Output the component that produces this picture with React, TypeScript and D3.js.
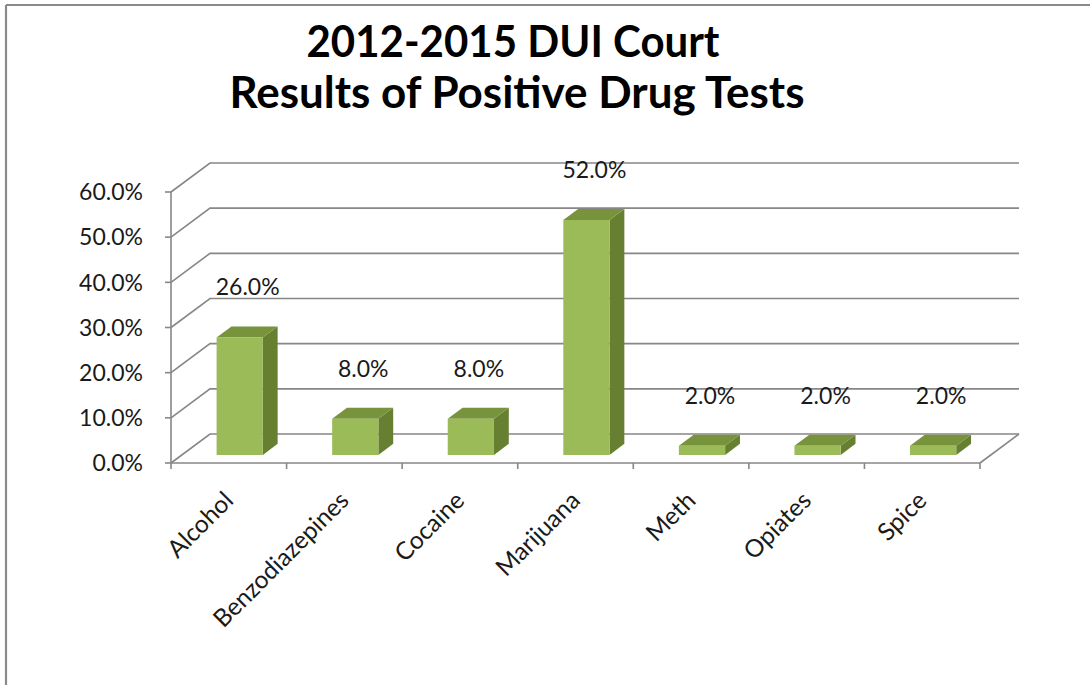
import React from "react";
import * as d3 from "d3";

const titleLines = ["2012-2015 DUI Court", "Results of Positive Drug Tests"];
const categories = ["Alcohol", "Benzodiazepines", "Cocaine", "Marijuana", "Meth", "Opiates", "Spice"];
const values = [26, 8, 8, 52, 2, 2, 2];
const yTicks = [0, 10, 20, 30, 40, 50, 60];

const W = 1090;
const H = 685;
const FRONT_LEFT = 171;
const FRONT_RIGHT = 980;
const FRONT_BOTTOM = 463;
const FRONT_TOP = 192;
const DEPTH = { dx: 39, dy: -29 };
const BAR_F0 = 0.28;
const BAR_F1 = 0.66;
const GRID = "#878787";
const FONT = "Lato, 'Open Sans', sans-serif";
const TITLE_LAYOUT = [
  { cx: 513, y: 57, len: 413 },
  { cx: 517, y: 108, len: 575 },
];

export default function App() {
  const x = d3.scaleBand<string>().domain(categories).range([FRONT_LEFT, FRONT_RIGHT]).padding(0);
  const y = d3.scaleLinear().domain([0, 60]).range([FRONT_BOTTOM, FRONT_TOP]);
  const fmt = (v: number) => d3.format(".1f")(v) + "%";
  const bw = x.bandwidth();
  const barW = bw / 2.5;
  const ox0 = DEPTH.dx * BAR_F0, oy0 = DEPTH.dy * BAR_F0;
  const ddx = DEPTH.dx * (BAR_F1 - BAR_F0), ddy = DEPTH.dy * (BAR_F1 - BAR_F0);
  const line = d3.line();

  return (
    <svg width={W} height={H} style={{ position: "absolute", left: 0, top: 0, background: "#fff" }}>
      <rect x={0} y={0} width={W} height={H} fill="#fff" />
      <line x1={6} y1={5} x2={W} y2={5} stroke="#8a8a8a" strokeWidth={2.2} />
      <line x1={6} y1={5} x2={6} y2={H} stroke="#8a8a8a" strokeWidth={2.2} />

      {titleLines.map((t, i) => (
        <text key={t} x={TITLE_LAYOUT[i].cx} y={TITLE_LAYOUT[i].y} textAnchor="middle" fontFamily={FONT} fontWeight={700}
          fontSize={43} textLength={TITLE_LAYOUT[i].len} lengthAdjust="spacingAndGlyphs" fill="#000">{t}</text>
      ))}

      {/* gridlines: side wall diagonal + back wall horizontal */}
      {yTicks.map((t) => {
        const yy = y(t);
        return (
          <path key={"g" + t}
            d={line([[FRONT_LEFT, yy], [FRONT_LEFT + DEPTH.dx, yy + DEPTH.dy], [FRONT_RIGHT + DEPTH.dx, yy + DEPTH.dy]]) || ""}
            fill="none" stroke={GRID} strokeWidth={1.6} />
        );
      })}
      {/* floor right edge */}
      <line x1={FRONT_RIGHT} y1={FRONT_BOTTOM} x2={FRONT_RIGHT + DEPTH.dx} y2={FRONT_BOTTOM + DEPTH.dy}
        stroke={GRID} strokeWidth={1.6} />
      {/* front axes */}
      <line x1={FRONT_LEFT} y1={y(60)} x2={FRONT_LEFT} y2={FRONT_BOTTOM} stroke={GRID} strokeWidth={1.6} />
      <line x1={FRONT_LEFT} y1={FRONT_BOTTOM} x2={FRONT_RIGHT} y2={FRONT_BOTTOM} stroke={GRID} strokeWidth={1.6} />
      {yTicks.map((t) => (
        <g key={"t" + t}>
          <line x1={FRONT_LEFT - 6} x2={FRONT_LEFT} y1={y(t)} y2={y(t)} stroke={GRID} strokeWidth={1.6} />
          <text x={143} y={y(t)} dy="0.36em" textAnchor="end" fontFamily={FONT} fontSize={23} fill="#1a1a1a">{fmt(t)}</text>
        </g>
      ))}
      {[...categories.map((c) => x(c) as number), FRONT_RIGHT].map((px, i) => (
        <line key={"ct" + i} x1={px} x2={px} y1={FRONT_BOTTOM} y2={FRONT_BOTTOM + 6} stroke={GRID} strokeWidth={1.6} />
      ))}

      {/* bars */}
      {categories.map((c, i) => {
        const v = values[i];
        const left = (x(c) as number) + (bw - barW) / 2 + ox0;
        const right = left + barW;
        const bottom = y(0) + oy0;
        const top = y(v) + oy0;
        const front = [[left, top], [right, top], [right, bottom], [left, bottom]] as [number, number][];
        const topFace = [[left, top], [left + ddx, top + ddy], [right + ddx, top + ddy], [right, top]] as [number, number][];
        const side = [[right, top], [right + ddx, top + ddy], [right + ddx, bottom + ddy], [right, bottom]] as [number, number][];
        return (
          <g key={c}>
            <path d={line(side) + "Z"} fill="#667f31" />
            <path d={line(topFace) + "Z"} fill="#77933c" />
            <path d={line(front) + "Z"} fill="#9bbb59" />
            <text x={left + barW / 2 + 8} y={top - 42} textAnchor="middle" fontFamily={FONT} fontSize={23} fill="#1a1a1a">
              {fmt(v)}
            </text>
          </g>
        );
      })}

      {/* category labels */}
      {categories.map((c) => {
        const cx = (x(c) as number) + bw / 2 + 6;
        const cy = 502;
        return (
          <text key={"l" + c} x={cx} y={cy} textAnchor="end" transform={`rotate(-45 ${cx} ${cy})`}
            fontFamily={FONT} fontSize={24.5} fill="#1a1a1a">{c}</text>
        );
      })}
    </svg>
  );
}
